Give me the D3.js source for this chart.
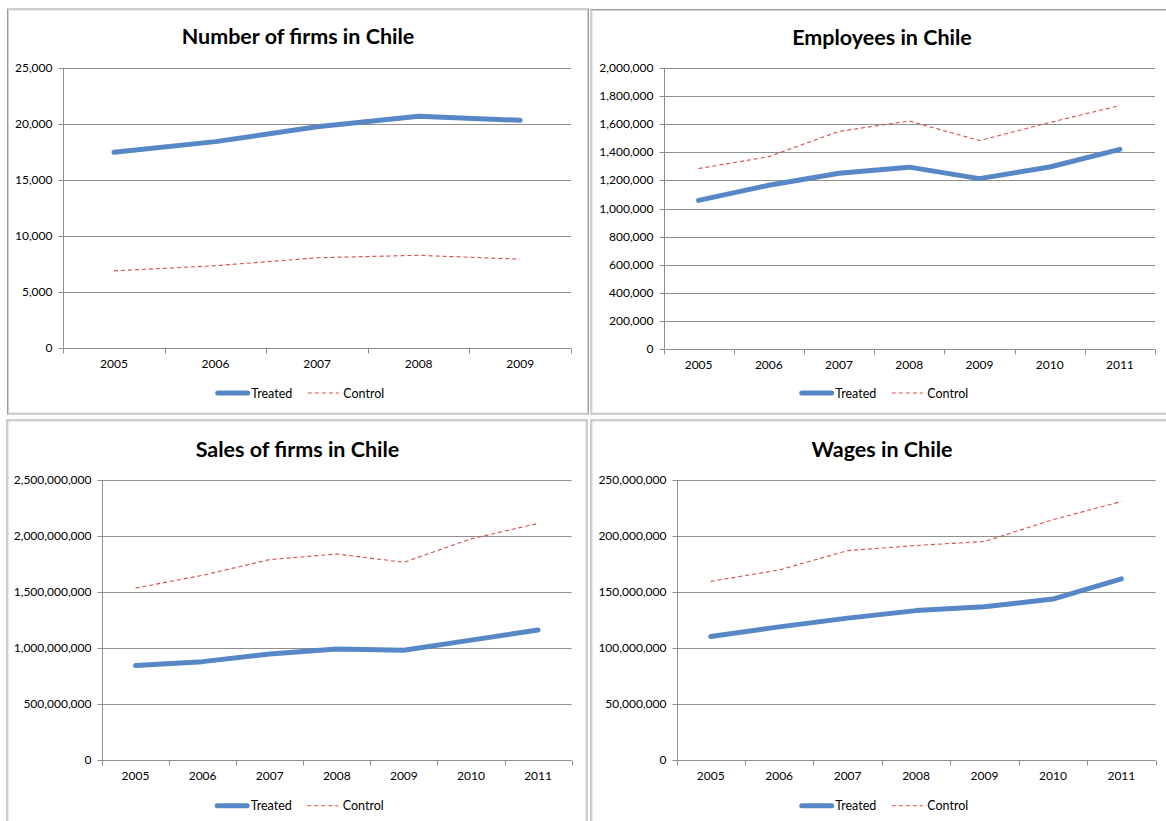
<!DOCTYPE html>
<html>
<head>
<meta charset="utf-8">
<script src="https://cdn.jsdelivr.net/npm/d3@7"></script>
<style>
  html, body { margin: 0; padding: 0; background: #ffffff; }
  svg { display: block; }
  text { font-family: Lato, "Open Sans", "Liberation Sans", sans-serif; fill: #000; }
</style>
</head>
<body>
<svg id="chart" width="1166" height="821"></svg>
<script>
// Categories
const years5 = ["2005", "2006", "2007", "2008", "2009"];
const years7 = ["2005", "2006", "2007", "2008", "2009", "2010", "2011"];

// Series values
const firmsTreated = [17450, 18400, 19730, 20660, 20300];
const firmsControl = [6860, 7320, 8030, 8250, 7900];

const employeesTreated = [1058000, 1166000, 1252000, 1295000, 1213000, 1296000, 1422000];
const employeesControl = [1285000, 1370000, 1550000, 1624000, 1485000, 1613000, 1735000];

const salesTreated = [845e6, 880e6, 948e6, 992e6, 981e6, 1072e6, 1162e6];
const salesControl = [1536e6, 1650e6, 1790e6, 1840e6, 1766e6, 1975e6, 2113e6];

const wagesTreated = [110.5e6, 119.0e6, 126.8e6, 133.5e6, 137.0e6, 143.8e6, 161.8e6];
const wagesControl = [159.6e6, 169.8e6, 187.0e6, 191.6e6, 195.2e6, 214.6e6, 230.8e6];

// Tick values
const firmsTicks = [0, 5000, 10000, 15000, 20000, 25000];
const employeesTicks = [0, 200000, 400000, 600000, 800000, 1000000, 1200000, 1400000, 1600000, 1800000, 2000000];
const salesTicks = [0, 500e6, 1000e6, 1500e6, 2000e6, 2500e6];
const wagesTicks = [0, 50e6, 100e6, 150e6, 200e6, 250e6];

// Titles and legend labels
const titles = ["Number of firms in Chile", "Employees in Chile", "Sales of firms in Chile", "Wages in Chile"];
const seriesNames = ["Treated", "Control"];

const svg = d3.select("#chart");
const fmt = d3.format(",");

const COLOR_TREATED = "#5787c6";
const COLOR_CONTROL = "#dc4a44";
const GRID = "#8e8e8e";

// Chart frames and plot areas
const panels = [
  { box: [7.5, 9, 581, 405], plot: [63.2, 67.7, 571, 347.7], titleX: 298, titleY: 44, legendY: 393,
    cats: years5, treated: firmsTreated, control: firmsControl, ticks: firmsTicks, title: titles[0] },
  { box: [591, 9.5, 600, 404.5], plot: [663.5, 68.3, 1155, 348.7], titleX: 882, titleY: 45, legendY: 393,
    cats: years7, treated: employeesTreated, control: employeesControl, ticks: employeesTicks, title: titles[1] },
  { box: [7, 420, 580, 420], plot: [102, 480, 571.6, 760.3], titleX: 297.5, titleY: 456.5, legendY: 805.7,
    cats: years7, treated: salesTreated, control: salesControl, ticks: salesTicks, title: titles[2] },
  { box: [591, 420, 600, 420], plot: [676.5, 480, 1155.6, 760.3], titleX: 882, titleY: 456.5, legendY: 805.7,
    cats: years7, treated: wagesTreated, control: wagesControl, ticks: wagesTicks, title: titles[3] }
];

panels.forEach(p => {
  const g = svg.append("g");
  const [bx, by, bw, bh] = p.box;

  // frame (double grey edge)
  g.append("rect").attr("x", bx).attr("y", by).attr("width", bw).attr("height", bh)
    .attr("fill", "#fff").attr("stroke", "#9c9c9c").attr("stroke-width", 1);
  g.append("rect").attr("x", bx + 1).attr("y", by + 1).attr("width", bw - 2).attr("height", bh - 2)
    .attr("fill", "none").attr("stroke", "#d4d4d4").attr("stroke-width", 1);

  const [x0, y0, x1, y1] = p.plot;
  const x = d3.scaleBand().domain(p.cats).range([x0, x1]).padding(0);
  const y = d3.scaleLinear().domain([0, d3.max(p.ticks)]).range([y1, y0]);

  // horizontal gridlines
  g.append("g").selectAll("line").data(p.ticks.filter(t => t > 0)).join("line")
    .attr("x1", x0).attr("x2", x1)
    .attr("y1", d => Math.round(y(d)) + 0.5).attr("y2", d => Math.round(y(d)) + 0.5)
    .attr("stroke", GRID).attr("stroke-width", 1);

  // y axis
  const yAxis = d3.axisLeft(y).tickValues(p.ticks).tickFormat(fmt).tickSize(5).tickPadding(6);
  const ya = g.append("g").attr("transform", `translate(${Math.round(x0) + 0.5},0)`).call(yAxis);
  ya.select(".domain").attr("stroke", GRID).attr("d", `M0,${y0}V${y1}`);
  ya.selectAll(".tick line").attr("stroke", GRID);
  ya.selectAll(".tick").attr("transform", d => `translate(0,${Math.round(y(d)) + 0.5})`);
  ya.selectAll(".tick text").style("font-family", "Lato, sans-serif").style("font-size", "12px").attr("fill", "#000");

  // x axis: tick marks on category boundaries, labels centred in categories
  const xa = g.append("g").attr("transform", `translate(0,${Math.round(y1) + 0.5})`);
  xa.append("line").attr("x1", x0).attr("x2", x1).attr("stroke", GRID).attr("stroke-width", 1);
  const bounds = p.cats.map(c => x(c)).concat([x1]);
  xa.selectAll("line.tk").data(bounds).join("line").attr("class", "tk")
    .attr("x1", d => Math.round(d) + 0.5).attr("x2", d => Math.round(d) + 0.5)
    .attr("y1", 0).attr("y2", 5).attr("stroke", GRID);
  xa.selectAll("text").data(p.cats).join("text")
    .attr("x", d => x(d) + x.bandwidth() / 2).attr("y", 19.5)
    .attr("text-anchor", "middle").style("font-size", "12px").text(d => d);

  const line = d3.line().x((d, i) => x(p.cats[i]) + x.bandwidth() / 2).y(d => y(d));

  // control series (thin dashed red)
  g.append("path").datum(p.control).attr("d", line).attr("fill", "none")
    .attr("stroke", COLOR_CONTROL).attr("stroke-width", 1.1).attr("stroke-dasharray", "4,3");
  // treated series (thick blue)
  g.append("path").datum(p.treated).attr("d", line).attr("fill", "none")
    .attr("stroke", COLOR_TREATED).attr("stroke-width", 5)
    .attr("stroke-linejoin", "round").attr("stroke-linecap", "round");

  // title
  g.append("text").attr("x", p.titleX).attr("y", p.titleY).attr("text-anchor", "middle")
    .style("font-weight", "bold").style("font-size", "21.5px").text(p.title);

  // legend
  const lg = g.append("g");
  const t1 = lg.append("text").attr("y", p.legendY + 4.5).style("font-size", "12.5px").text(seriesNames[0]);
  const t2 = lg.append("text").attr("y", p.legendY + 4.5).style("font-size", "12.5px").text(seriesNames[1]);
  const w1 = t1.node().getComputedTextLength();
  const w2 = t2.node().getComputedTextLength();
  const sw1 = 34, gap1 = 1.5, gapMid = 15.5, sw2 = 31, gap2 = 4.5;
  const total = sw1 + gap1 + w1 + gapMid + sw2 + gap2 + w2;
  let lx = p.titleX + 2 - total / 2;
  lg.append("line").attr("x1", lx + 2).attr("x2", lx + sw1 - 2).attr("y1", p.legendY).attr("y2", p.legendY)
    .attr("stroke", COLOR_TREATED).attr("stroke-width", 5).attr("stroke-linecap", "round");
  lx += sw1 + gap1;
  t1.attr("x", lx);
  lx += w1 + gapMid;
  lg.append("line").attr("x1", lx).attr("x2", lx + sw2).attr("y1", p.legendY).attr("y2", p.legendY)
    .attr("stroke", COLOR_CONTROL).attr("stroke-width", 1.1).attr("stroke-dasharray", "4,3");
  lx += sw2 + gap2;
  t2.attr("x", lx);
});
</script>
</body>
</html>
